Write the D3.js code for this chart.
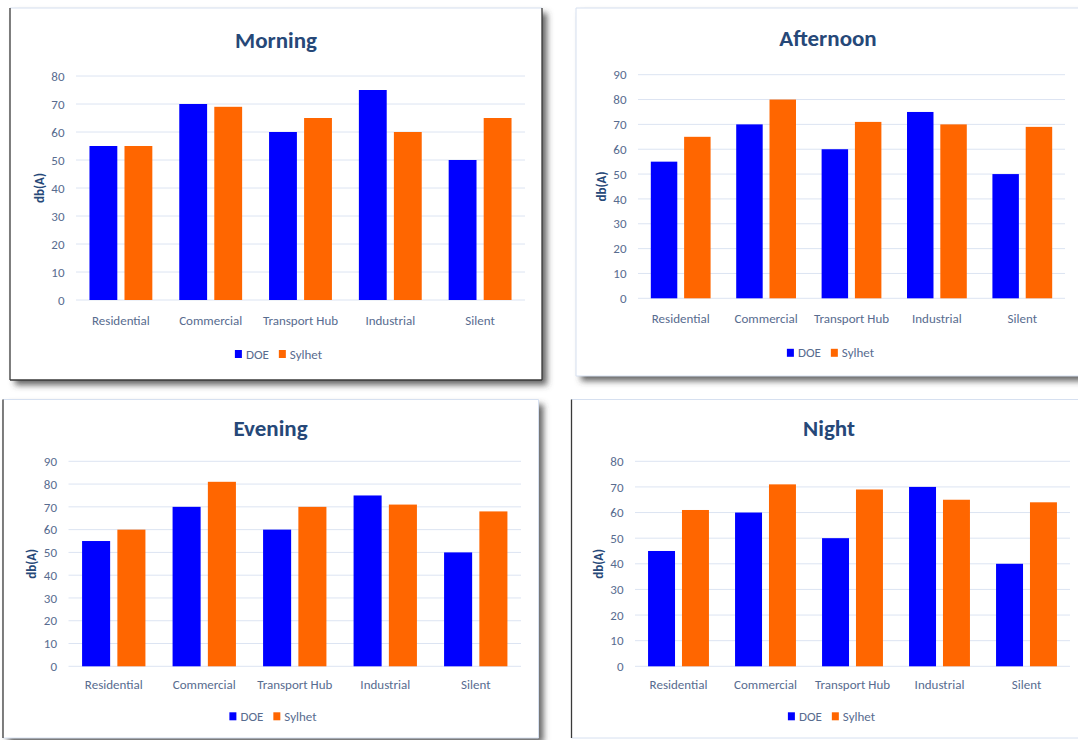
<!DOCTYPE html>
<html>
<head>
<meta charset="utf-8">
<script src="https://cdn.jsdelivr.net/npm/d3@7"></script>
<style>
  html, body { margin: 0; padding: 0; background: #ffffff; }
  svg { display: block; }
  text { font-family: Carlito, Lato, "Open Sans", sans-serif; }
</style>
</head>
<body>
<svg id="chart" width="1078" height="740"></svg>
<script>
// Noise levels, dB(A), by land-use zone and time of day
const categories = ["Residential", "Commercial", "Transport Hub", "Industrial", "Silent"];
const seriesNames = ["DOE", "Sylhet"];

const morningDOE      = [55, 70, 60, 75, 50];
const morningSylhet   = [55, 69, 65, 60, 65];
const afternoonDOE    = [55, 70, 60, 75, 50];
const afternoonSylhet = [65, 80, 71, 70, 69];
const eveningDOE      = [55, 70, 60, 75, 50];
const eveningSylhet   = [60, 81, 70, 71, 68];
const nightDOE        = [45, 60, 50, 70, 40];
const nightSylhet     = [61, 71, 69, 65, 64];

const morningTicks   = [0, 10, 20, 30, 40, 50, 60, 70, 80];
const afternoonTicks = [0, 10, 20, 30, 40, 50, 60, 70, 80, 90];
const eveningTicks   = [0, 10, 20, 30, 40, 50, 60, 70, 80, 90];
const nightTicks     = [0, 10, 20, 30, 40, 50, 60, 70, 80];

const colors = { DOE: "#0000FF", Sylhet: "#FF6600" };
const titleColor = "#264878";
const labelColor = "#586C8F";
const gridColor = "#DCE4F2";
const edgeLight = "#D6E0F0";
const edgeDark = "#3A3A3A";

const svg = d3.select("#chart");

const defs = svg.append("defs");
const shadow = defs.append("filter").attr("id", "shadow")
  .attr("x", "-5%").attr("y", "-5%").attr("width", "115%").attr("height", "115%");
shadow.append("feDropShadow")
  .attr("dx", 5).attr("dy", 5).attr("stdDeviation", 3)
  .attr("flood-color", "#3c3c3c").attr("flood-opacity", 0.8);

// Panel layout: frame box, plot area, and which edges are drawn dark
const panels = [
  { title: "Morning", doe: morningDOE, syl: morningSylhet, ticks: morningTicks,
    frame: [10, 8, 542, 380], shadow: true, dark: ["left", "right", "bottom"],
    px: [76, 525], py: [300, 76], titleX: 276, titleY: 40, catDy: 20, legDy: 54 },
  { title: "Afternoon", doe: afternoonDOE, syl: afternoonSylhet, ticks: afternoonTicks,
    frame: [576, 8, 1095, 376], shadow: true, dark: [],
    px: [638, 1065], py: [298.3, 74.7], titleX: 828, titleY: 38, catDy: 20, legDy: 54.5 },
  { title: "Evening", doe: eveningDOE, syl: eveningSylhet, ticks: eveningTicks,
    frame: [3, 399.5, 538.5, 738], shadow: true, dark: ["left"],
    px: [68.5, 521], py: [666.3, 461.3], titleX: 270.5, titleY: 428.3, catDy: 18, legDy: 50 },
  { title: "Night", doe: nightDOE, syl: nightSylhet, ticks: nightTicks,
    frame: [571.5, 399.5, 1095, 738], shadow: false, dark: ["left"],
    px: [635, 1070], py: [666.3, 461.3], titleX: 829, titleY: 428, catDy: 18, legDy: 50 }
];

panels.forEach(p => {
  const g = svg.append("g");
  const [fx0, fy0, fx1, fy1] = p.frame;

  // frame background with shadow
  g.append("rect")
    .attr("x", fx0).attr("y", fy0).attr("width", fx1 - fx0).attr("height", fy1 - fy0)
    .attr("fill", "#ffffff")
    .attr("filter", p.shadow ? "url(#shadow)" : null);

  const edges = {
    top:    [fx0, fy0, fx1, fy0],
    bottom: [fx0, fy1, fx1, fy1],
    left:   [fx0, fy0, fx0, fy1],
    right:  [fx1, fy0, fx1, fy1]
  };
  Object.entries(edges).forEach(([k, c]) => {
    const dark = p.dark.includes(k);
    g.append("line")
      .attr("x1", c[0]).attr("y1", c[1]).attr("x2", c[2]).attr("y2", c[3])
      .attr("stroke", dark ? edgeDark : edgeLight)
      .attr("stroke-width", dark ? 1.3 : 1);
  });

  const yMax = p.ticks[p.ticks.length - 1];
  const y = d3.scaleLinear().domain([0, yMax]).range(p.py);
  const x0 = d3.scaleBand().domain(categories).range(p.px).padding(0);
  const step = x0.bandwidth();
  const x1 = d3.scaleBand().domain(seriesNames)
    .range([0.15 * step, 0.85 * step]).paddingInner(0.205).paddingOuter(0);

  // gridlines
  g.append("g").selectAll("line").data(p.ticks).join("line")
    .attr("x1", p.px[0]).attr("x2", p.px[1])
    .attr("y1", d => y(d)).attr("y2", d => y(d))
    .attr("stroke", gridColor).attr("stroke-width", 1);

  // y axis labels
  const yAxis = d3.axisLeft(y).tickValues(p.ticks).tickSize(0).tickPadding(0);
  const ya = g.append("g").attr("transform", `translate(${p.px[0] - 11.5},0)`).call(yAxis);
  ya.select(".domain").remove();
  ya.selectAll("text")
    .attr("fill", labelColor).style("font-size", "13px")
    .style("font-family", "Carlito, Lato, 'Open Sans', sans-serif");

  // bars
  const rows = categories.map((c, i) => ({ cat: c, vals: [
    { key: "DOE", v: p.doe[i] }, { key: "Sylhet", v: p.syl[i] }] }));
  g.append("g").selectAll("g").data(rows).join("g")
    .attr("transform", d => `translate(${x0(d.cat)},0)`)
    .selectAll("rect").data(d => d.vals).join("rect")
    .attr("x", d => x1(d.key)).attr("width", x1.bandwidth())
    .attr("y", d => y(d.v)).attr("height", d => y(0) - y(d.v))
    .attr("fill", d => colors[d.key]);

  // x axis category labels
  const xAxis = d3.axisBottom(x0).tickSize(0).tickPadding(0);
  const xa = g.append("g").attr("transform", `translate(0,${y(0) + p.catDy})`).call(xAxis);
  xa.select(".domain").remove();
  xa.selectAll("text")
    .attr("dy", "0.35em").attr("y", 0)
    .attr("fill", labelColor).style("font-size", "13px")
    .style("font-family", "Carlito, Lato, 'Open Sans', sans-serif");

  // title
  g.append("text")
    .attr("x", p.titleX).attr("y", p.titleY).attr("dy", "0.35em")
    .attr("text-anchor", "middle")
    .attr("fill", titleColor).style("font-size", "23px").style("font-weight", "bold")
    .text(p.title);

  // y axis title
  const yMid = (p.py[0] + p.py[1]) / 2;
  g.append("text")
    .attr("transform", `translate(${p.px[0] - 37},${yMid}) rotate(-90)`)
    .attr("text-anchor", "middle").attr("dy", "0.35em")
    .attr("fill", titleColor).style("font-size", "13px").style("font-weight", "bold")
    .text("db(A)");

  // legend
  const leg = g.append("g");
  const ly = y(0) + p.legDy;
  let cx = 0;
  seriesNames.forEach((s, i) => {
    if (i > 0) cx += 10;
    leg.append("rect").attr("x", cx).attr("y", ly - 4).attr("width", 7).attr("height", 8)
      .attr("fill", colors[s]);
    cx += 11;
    const t = leg.append("text").attr("x", cx).attr("y", ly).attr("dy", "0.35em")
      .attr("fill", labelColor).style("font-size", "13px").text(s);
    cx += t.node().getComputedTextLength();
  });
  leg.attr("transform", `translate(${p.titleX + 2.5 - cx / 2},0)`);
});
</script>
</body>
</html>
